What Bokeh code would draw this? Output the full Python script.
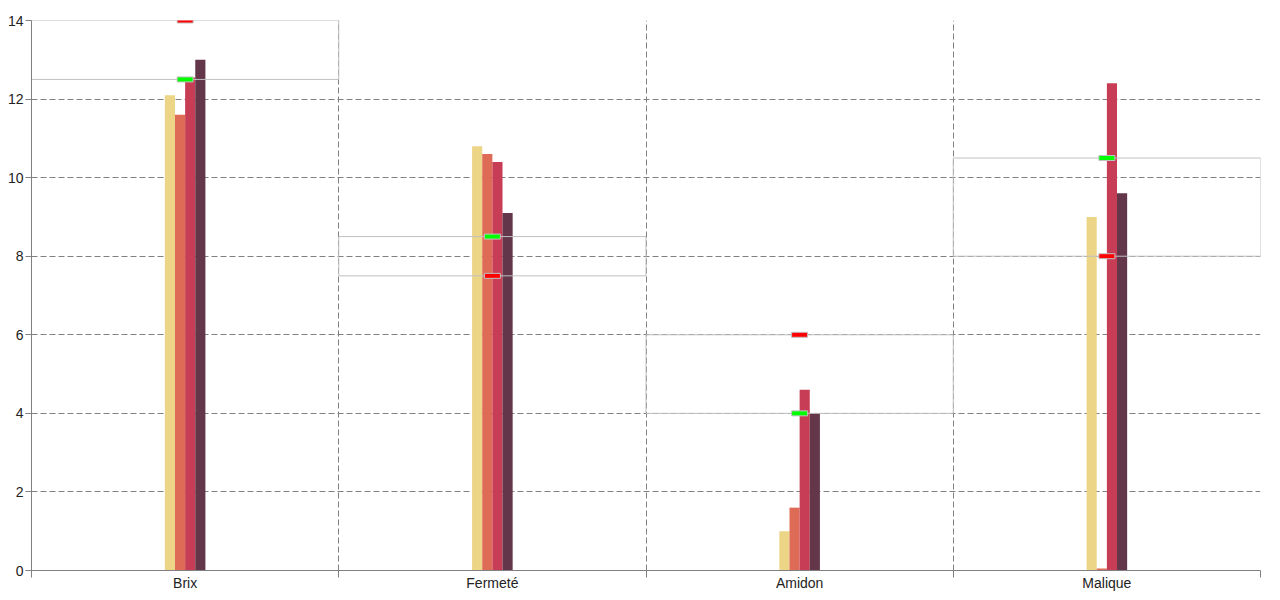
from bokeh.plotting import figure
from bokeh.models import FixedTicker
from bokeh.embed import file_html
from bokeh.resources import INLINE

categories = ["Brix", "Fermeté", "Amidon", "Malique"]
series_1 = [12.1, 10.8, 1.0, 9.0]
series_2 = [11.6, 10.6, 1.6, 0.05]
series_3 = [12.55, 10.4, 4.6, 12.4]
series_4 = [13.0, 9.1, 4.0, 9.6]
green_marks = [12.5, 8.5, 4.0, 10.5]
red_marks = [14.0, 7.5, 6.0, 8.0]
y_ticks = [0, 2, 4, 6, 8, 10, 12, 14]

colors = ["#edd587", "#dd6b55", "#c73d56", "#633649"]
series = [series_1, series_2, series_3, series_4]

n = len(categories)
centers = [i + 0.5 for i in range(n)]
bounds = list(range(n + 1))

p = figure(frame_width=1229, frame_height=550, x_range=(0, n), y_range=(0, 14),
           output_backend="svg", toolbar_location=None,
           min_border_left=31, min_border_right=8, min_border_top=20, min_border_bottom=20)
p.outline_line_color = None
p.background_fill_color = "white"

bw = 0.033
for k, (vals, c) in enumerate(zip(series, colors)):
    xs = [cx + (k - 1.5) * bw for cx in centers]
    p.vbar(x=xs, top=vals, width=bw, bottom=0, fill_color=c, line_color=None)

lo = [min(a, b) for a, b in zip(green_marks, red_marks)]
hi = [max(a, b) for a, b in zip(green_marks, red_marks)]
p.quad(left=bounds[:-1], right=bounds[1:], bottom=lo, top=hi,
       fill_color=None, line_color="#c0c0c0", line_width=1)

p.rect(x=centers, y=green_marks, width=16, height=5, width_units="screen", height_units="screen",
       fill_color="#00ff00", line_color="#c0c0c0", line_width=1)
p.rect(x=centers, y=red_marks, width=16, height=5, width_units="screen", height_units="screen",
       fill_color="#ff0000", line_color="#c0c0c0", line_width=1)

p.xaxis.ticker = FixedTicker(ticks=centers, minor_ticks=bounds)
p.xaxis.major_label_overrides = {c: name for c, name in zip(centers, categories)}
p.xaxis.major_tick_out = 0
p.xaxis.major_tick_in = 0
p.xaxis.minor_tick_out = 7
p.xaxis.minor_tick_in = 0
p.xaxis.major_label_standoff = -3

p.yaxis.ticker = FixedTicker(ticks=y_ticks)
p.yaxis.major_tick_out = 6
p.yaxis.major_tick_in = 0
p.yaxis.major_label_standoff = 2

for ax in (p.xaxis, p.yaxis):
    ax.axis_line_color = "#808080"
    ax.major_tick_line_color = "#808080"
    ax.minor_tick_line_color = "#808080"
    ax.major_label_text_font = "Liberation Sans"
    ax.major_label_text_font_size = "14px"
    ax.major_label_text_color = "#222222"
p.yaxis.minor_tick_line_color = None

p.xgrid.ticker = FixedTicker(ticks=bounds)
p.ygrid.ticker = FixedTicker(ticks=y_ticks)
for g in (p.xgrid, p.ygrid):
    g.grid_line_color = "#808080"
    g.grid_line_dash = "6 3"
    g.grid_line_width = 1

open("out.html", "w").write(file_html(p, INLINE))
